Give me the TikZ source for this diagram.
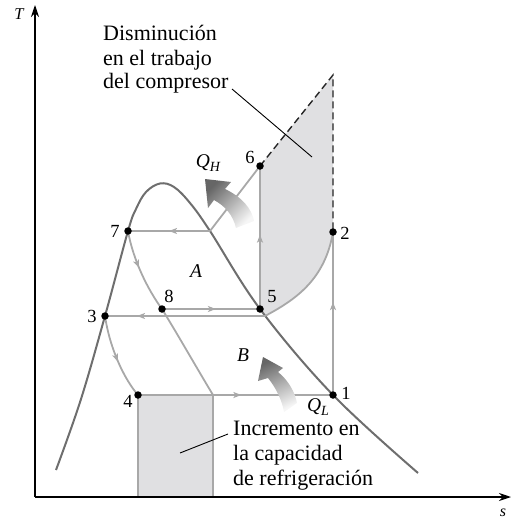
\documentclass[tikz,border=0pt]{standalone}
\usepackage{fontspec}
\setmainfont{Liberation Serif}
\usetikzlibrary{arrows.meta,decorations.markings}
\definecolor{proc}{HTML}{A8A8A8}
\definecolor{domec}{HTML}{6E6E6E}
\definecolor{shadefill}{HTML}{E0E0E2}
\definecolor{qdark}{HTML}{666666}
\definecolor{qlight}{HTML}{F6F6F6}
\begin{document}
\begin{tikzpicture}[x=1pt,y=-1pt,
  dot/.style={circle,fill=black,inner sep=0pt,minimum size=7.5pt},
  procline/.style={draw=proc,line width=1.8pt},
  midarr/.style={postaction={decorate},decoration={markings,mark=at position #1 with {\arrow[color=proc]{Stealth[length=8pt,width=6pt,inset=2pt]}}}},
  domeline/.style={draw=domec,line width=2pt},
  dashline/.style={draw=black!85,line width=1.4pt,dash pattern=on 7pt off 4pt},
  leader/.style={draw=black,line width=0.9pt},
  axis/.style={draw=black,line width=1.1pt,-{Stealth[length=12pt,width=8pt]}},
  numlab/.style={inner sep=0pt,font=\fontsize{18.5}{20}\selectfont},
  itlab/.style={inner sep=0pt,font=\fontsize{19.5}{21}\selectfont\itshape},
  txt/.style={inner sep=0pt,anchor=base west,font=\fontsize{22}{24}\selectfont}
]
\useasboundingbox (0,0) rectangle (512,522);

% named points
\coordinate (c1) at (333,395);
\coordinate (c2) at (333,232);
\coordinate (c3) at (105,316);
\coordinate (c4) at (138,395);
\coordinate (c5) at (260,309);
\coordinate (c6) at (260,166);
\coordinate (c7) at (128,231);
\coordinate (c8) at (162,309);
\coordinate (c9) at (265,316);
\coordinate (c10) at (213,395);
\coordinate (d7) at (210,231);
\coordinate (top) at (333,75);
\coordinate (o) at (35,497);
\coordinate (ty) at (35,5);
\coordinate (sx) at (511,497);
\coordinate (r4) at (138,497);
\coordinate (r10) at (213,497);

% shaded areas
\fill[shadefill] (c5) -- (c6) -- (top) -- (c2) .. controls (325,280) and (295,300) .. (c9) -- cycle;
\fill[shadefill] (c4) rectangle (r10);

% dome
\draw[domeline] plot[smooth,tension=0.6] coordinates {(56,470) (80.7,400) (105,316) (128,231) (136,209) (146,192) (160,183.5) (174,187) (190,203) (210,231) (260,309) (333,395) (418,473)};

% process lines
\draw[procline] (c4) -- (r4);
\draw[procline] (c10) -- (r10);
\draw[procline] (c6) -- (d7);
\draw[procline,midarr=0.5] (d7) -- (c7);
\draw[procline,midarr=0.55] (c8) -- (c5);
\draw[procline,midarr=0.8] (c9) -- (c3);
\draw[procline,midarr=0.53] (c4) -- (c1);
\draw[procline,midarr=0.52] (c5) -- (c6);
\draw[procline,midarr=0.57] (c1) -- (c2);
\draw[procline] (c2) .. controls (325,280) and (295,300) .. (c9);
\draw[procline,midarr=0.45] (c7) .. controls (133,260) and (148,290) .. (c8);
\draw[procline] (c8) .. controls (178,335) and (195,365) .. (c10);
\draw[procline,midarr=0.55] (c3) .. controls (110,350) and (125,380) .. (c4);

% dashed
\draw[dashline] (c6) -- (top) -- (c2);

% heat arrows
\shade[top color=qdark,bottom color=qlight,shading angle=45]
  (205,179) -- (231,182) -- (225,189) .. controls (242,197) and (252,209) .. (254,221)
  -- (236,228) .. controls (233,215) and (225,206) .. (214,200) -- (208,208) -- cycle;
\shade[top color=qdark,bottom color=qlight,shading angle=25]
  (263,357) -- (283,368) -- (278,372) .. controls (288,380) and (295,392) .. (297,403)
  -- (284,412) .. controls (282,400) and (276,388) .. (268,378) -- (258,381) -- cycle;

% axes
\draw[axis] (o) -- (ty);
\draw[axis] (o) -- (sx);
\node[itlab,font=\fontsize{16.5}{18}\selectfont\itshape] (tlab) at (19,14) {T};
\node[itlab,font=\fontsize{16}{18}\selectfont\itshape] (slab) at (503,513) {s};

% dots
\foreach \i in {1,...,8} {\node[dot] (n\i) at (c\i) {};}

% number labels
\node[numlab] (l1) at (346,393) {1};
\node[numlab] (l2) at (345,233) {2};
\node[numlab] (l3) at (92,316) {3};
\node[numlab] (l4) at (128,401) {4};
\node[numlab] (l5) at (272,297) {5};
\node[numlab] (l6) at (250,157) {6};
\node[numlab] (l7) at (115,231) {7};
\node[numlab] (l8) at (169,296) {8};
\node[itlab] (la) at (196,271) {A};
\node[itlab] (lb) at (243,355) {B};
\node[itlab] (qh) at (208,163) {Q\raisebox{-0.35ex}{\fontsize{14}{14}\selectfont H}};
\node[itlab] (ql) at (318,407) {Q\raisebox{-0.35ex}{\fontsize{14}{14}\selectfont L}};

% texts
\node[txt] (t1) at (103,40.7) {Disminución};
\node[txt] (t2) at (103,65) {en el trabajo};
\node[txt] (t3) at (103,88.5) {del compresor};
\node[txt] (b1) at (233,435) {Incremento en};
\node[txt] (b2) at (233,460) {la capacidad};
\node[txt] (b3) at (233,485) {de refrigeración};

% leaders
\coordinate (lta) at (232,89);
\coordinate (ltb) at (312,157);
\coordinate (lba) at (180,453);
\coordinate (lbb) at (228,434);
\draw[leader] (lta) -- (ltb);
\draw[leader] (lba) -- (lbb);
\end{tikzpicture}
\end{document}
